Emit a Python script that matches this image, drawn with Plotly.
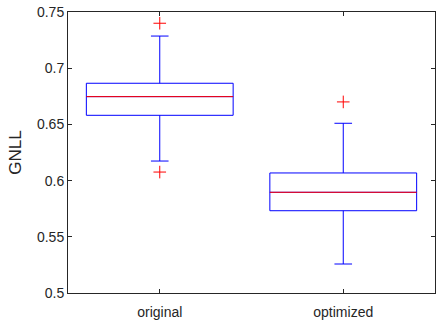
import plotly.graph_objects as go

categories = ["original", "optimized"]
positions = [1, 2]
q1 = [0.6581, 0.5732]
median = [0.6747, 0.5896]
q3 = [0.6866, 0.6068]
lowerfence = [0.6174, 0.5258]
upperfence = [0.7286, 0.6510]
outlier_x = [1, 1, 2]
outlier_y = [0.7400, 0.6076, 0.6700]

BOX_W = 0.8
AX = "#262626"
FONT = "Liberation Sans, Arial, sans-serif"

fig = go.Figure()
fig.add_trace(go.Box(
    x=positions, q1=q1, median=median, q3=q3,
    lowerfence=lowerfence, upperfence=upperfence,
    width=BOX_W, whiskerwidth=0.12,
    line=dict(color="#0000ff", width=1), fillcolor="rgba(255,255,255,0)",
    boxpoints=False, showlegend=False, hoverinfo="skip",
))
# red median lines
mx, my = [], []
for p, m in zip(positions, median):
    mx += [p - BOX_W / 2, p + BOX_W / 2, None]
    my += [m, m, None]
fig.add_trace(go.Scatter(x=mx, y=my, mode="lines", line=dict(color="#ff0000", width=1),
                         showlegend=False, hoverinfo="skip"))
fig.add_trace(go.Scatter(x=outlier_x, y=outlier_y, mode="markers",
                         marker=dict(symbol="cross-thin", size=9, line=dict(color="#ff0000", width=1)),
                         showlegend=False, hoverinfo="skip"))

fig.update_layout(
    width=436, height=322,
    margin=dict(l=68, r=1, t=12, b=29),
    paper_bgcolor="white", plot_bgcolor="white",
    font=dict(family=FONT, size=14, color=AX),
    xaxis=dict(range=[0.5, 2.5], tickvals=positions, ticktext=categories,
               showgrid=False, zeroline=False, showline=True, linecolor=AX, linewidth=1,
               mirror="ticks", ticks="inside", ticklen=4, tickcolor=AX,
               ticklabelstandoff=6),
    yaxis=dict(range=[0.5, 0.75], tickvals=[0.5, 0.55, 0.6, 0.65, 0.7, 0.75],
               ticktext=["0.5", "0.55", "0.6", "0.65", "0.7", "0.75"],
               showgrid=False, zeroline=False, showline=True, linecolor=AX, linewidth=1,
               mirror="ticks", ticks="inside", ticklen=4, tickcolor=AX,
               title=dict(text="GNLL", standoff=11)),
)
fig.write_html("out.html")
